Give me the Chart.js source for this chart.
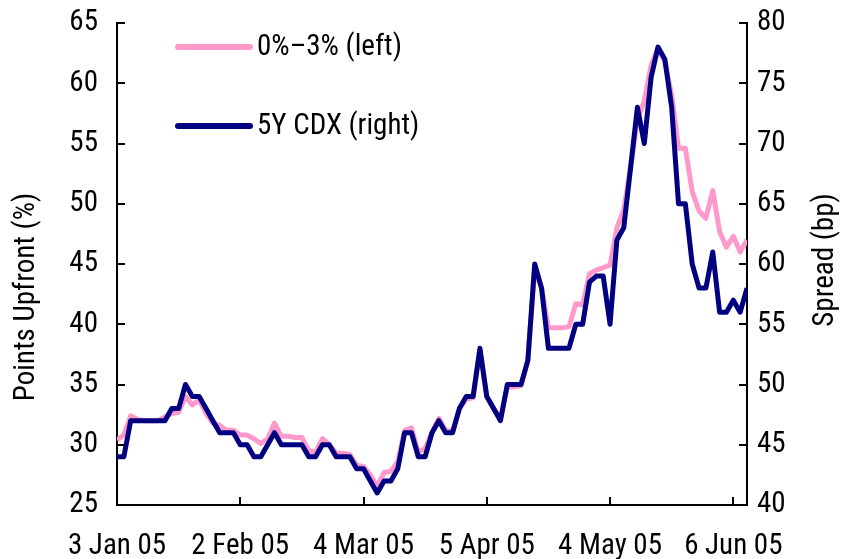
<!DOCTYPE html>
<html>
<head>
<meta charset="utf-8">
<script src="https://cdn.jsdelivr.net/npm/chart.js@4.4.0/dist/chart.umd.min.js"></script>
<style>
    html, body { margin: 0; padding: 0; background: #fff; }
    #chart { display: block; }
</style>
</head>
<body>
<canvas id="chart" width="842" height="559"></canvas>
<script>
// Eixo x: um rótulo a cada 18 pontos
const tickLabels = ['3 Jan 05', '2 Feb 05', '4 Mar 05', '5 Apr 05', '4 May 05', '6 Jun 05'];
const tickEvery = 18;

// 0%-3% tranche, points upfront (eixo esquerdo)
const tranche03 = [
    30.4, 30.8, 32.4, 32.1, 32.0, 32.0, 32.0, 32.3, 32.6, 32.7,
    34.0, 33.3, 33.7, 32.6, 31.8, 31.6, 31.2, 31.2, 30.8, 30.8,
    30.5, 30.1, 30.5, 31.8, 30.7, 30.7, 30.6, 30.6, 29.5, 29.4,
    30.5, 30.0, 29.3, 29.3, 29.2, 28.3, 28.2, 27.5, 26.5, 27.7,
    27.8, 28.6, 31.2, 31.4, 29.4, 29.7, 31.0, 32.2, 31.2, 31.1,
    33.0, 33.8, 33.9, 37.8, 34.0, 33.0, 32.2, 34.8, 34.8, 34.9,
    37.0, 44.6, 43.0, 39.7, 39.7, 39.7, 39.8, 41.7, 41.6, 44.2,
    44.5, 44.7, 44.9, 48.0, 49.5, 53.0, 57.0, 58.5, 61.5, 62.9,
    61.8, 59.0, 54.6, 54.6, 51.0, 49.4, 48.8, 51.1, 47.7, 46.4,
    47.3, 46.0, 47.0
];

// 5Y CDX spread em bp (eixo direito)
const cdx5y = [
    44, 44, 47, 47, 47, 47, 47, 47, 48, 48,
    50, 49, 49, 48, 47, 46, 46, 46, 45, 45,
    44, 44, 45, 46, 45, 45, 45, 45, 44, 44,
    45, 45, 44, 44, 44, 43, 43, 42, 41, 42,
    42, 43, 46, 46, 44, 44, 46, 47, 46, 46,
    48, 49, 49, 53, 49, 48, 47, 50, 50, 50,
    52, 60, 58, 53, 53, 53, 53, 55, 55, 58.5,
    59, 59, 55, 62, 63, 68, 73, 70, 75.5, 78,
    77, 73, 65, 65, 60, 58, 58, 61, 56, 56,
    57, 56, 58
];

const FONT = "'Roboto Condensed', sans-serif";

// Tira o espaço extra que o Chart.js reserva para meia altura dos rótulos
function fixWidth(w) {
    return s => {
        s.width = w;
        s.paddingTop = 0;
        s.paddingBottom = 0;
    };
}

// Marcas dos eixos voltadas para dentro
const innerTicks = {
    id: 'innerTicks',
    afterDraw(chart) {
        const { ctx, chartArea: a, scales } = chart;
        const len = 8;
        ctx.save();
        ctx.strokeStyle = '#000';
        ctx.lineWidth = 2;
        ctx.beginPath();
        scales.x.ticks.forEach(t => {
            if (t.value === 0) return;
            const x = Math.round(scales.x.getPixelForValue(t.value));
            ctx.moveTo(x, a.bottom);
            ctx.lineTo(x, a.bottom - len);
        });
        scales.yL.ticks.forEach(t => {
            const y = Math.round(scales.yL.getPixelForValue(t.value));
            ctx.moveTo(a.left, y);
            ctx.lineTo(a.left + len, y);
        });
        scales.yR.ticks.forEach(t => {
            const y = Math.round(scales.yR.getPixelForValue(t.value));
            ctx.moveTo(a.right, y);
            ctx.lineTo(a.right - len, y);
        });
        ctx.stroke();
        ctx.restore();
    }
};

// Títulos dos eixos e legenda dentro da área do gráfico
const annotations = {
    id: 'annotations',
    afterDraw(chart) {
        const { ctx } = chart;
        ctx.save();
        ctx.fillStyle = '#000';
        ctx.font = '29px ' + FONT;
        ctx.textAlign = 'center';
        ctx.textBaseline = 'middle';

        ctx.save();
        ctx.translate(27, 297);
        ctx.rotate(-Math.PI / 2);
        ctx.fillText('Points Upfront (%)', 0, 0);
        ctx.restore();

        ctx.save();
        ctx.translate(826, 260);
        ctx.rotate(-Math.PI / 2);
        ctx.fillText('Spread (bp)', 0, 0);
        ctx.restore();

        const rows = [47, 126];
        chart.data.datasets.forEach((ds, i) => {
            const y = rows[i];
            ctx.strokeStyle = ds.borderColor;
            ctx.lineWidth = 6;
            ctx.lineCap = 'round';
            ctx.beginPath();
            ctx.moveTo(178, y);
            ctx.lineTo(250, y);
            ctx.stroke();
            ctx.textAlign = 'left';
            ctx.fillText(ds.label, 257, y + 1);
        });
        ctx.restore();
    }
};

new Chart(document.getElementById('chart'), {
    type: 'line',
    data: {
        datasets: [
            {
                label: '0%\u20133% (left)',
                data: tranche03.map((v, i) => ({ x: i, y: v })),
                borderColor: '#FF99CC',
                borderWidth: 5,
                pointRadius: 0,
                borderJoinStyle: 'round',
                yAxisID: 'yL',
                order: 1
            },
            {
                label: '5Y CDX (right)',
                data: cdx5y.map((v, i) => ({ x: i, y: v })),
                borderColor: '#000080',
                borderWidth: 5,
                pointRadius: 0,
                borderJoinStyle: 'round',
                yAxisID: 'yR',
                order: 0
            }
        ]
    },
    options: {
        responsive: false,
        animation: false,
        events: [],
        layout: { padding: { top: 23, left: 0, right: 0, bottom: 0 } },
        plugins: { legend: { display: false }, tooltip: { enabled: false } },
        scales: {
            x: {
                type: 'linear',
                min: 0,
                max: cdx5y.length - 1,
                afterFit: s => { s.height = 54; s.paddingLeft = 0; s.paddingRight = 0; },
                grid: { display: false, drawTicks: false },
                border: { display: true, color: '#000', width: 2 },
                ticks: {
                    stepSize: tickEvery,
                    includeBounds: false,
                    autoSkip: false,
                    maxRotation: 0,
                    padding: 24,
                    color: '#000',
                    font: { family: FONT, size: 29 },
                    callback: v => (v % tickEvery === 0 ? tickLabels[v / tickEvery] : '')
                }
            },
            yL: {
                position: 'left',
                min: 25,
                max: 65,
                afterFit: fixWidth(117),
                grid: { display: false, drawTicks: false },
                border: { display: true, color: '#000', width: 2 },
                ticks: { stepSize: 5, padding: 19, color: '#000', font: { family: FONT, size: 29 } }
            },
            yR: {
                position: 'right',
                min: 40,
                max: 80,
                afterFit: fixWidth(95),
                grid: { display: false, drawTicks: false },
                border: { display: true, color: '#000', width: 2 },
                ticks: { stepSize: 5, padding: 10, color: '#000', font: { family: FONT, size: 29 } }
            }
        }
    },
    plugins: [innerTicks, annotations]
});
</script>
</body>
</html>
